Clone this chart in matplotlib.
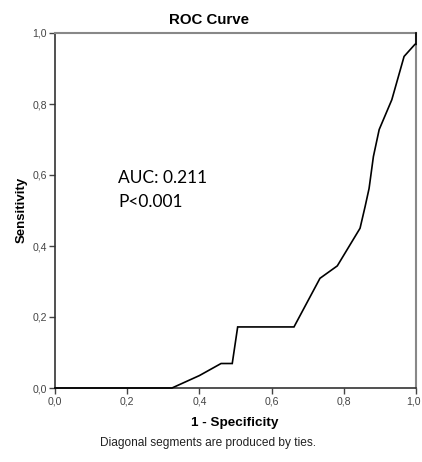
import matplotlib
matplotlib.use("Agg")
import matplotlib.pyplot as plt
import matplotlib.transforms as mtransforms
from matplotlib.ticker import FuncFormatter

fpr = [0.0, 0.324, 0.40, 0.46, 0.491, 0.506, 0.662, 0.734, 0.782, 0.845, 0.859,
       0.870, 0.882, 0.898, 0.933, 0.967, 0.997, 1.0, 1.0]
tpr = [0.0, 0.0, 0.035, 0.069, 0.069, 0.172, 0.172, 0.309, 0.344, 0.450, 0.511,
       0.562, 0.652, 0.728, 0.812, 0.934, 0.968, 0.968, 1.0]
ticks = [0.0, 0.2, 0.4, 0.6, 0.8, 1.0]

plt.rcParams['font.family'] = ['Liberation Sans', 'DejaVu Sans']

W, H = 422, 462
fig = plt.figure(figsize=(W / 100, H / 100), dpi=100)
ax = fig.add_axes([55 / W, 1 - 388 / H, (416 - 55) / W, (388 - 33) / H])

ax.plot(fpr, tpr, color='black', lw=1.2, solid_joinstyle='miter', clip_on=False, zorder=3)
ax.set_xlim(0, 1)
ax.set_ylim(0, 1)
ax.set_xticks(ticks)
ax.set_yticks(ticks)
fmt = FuncFormatter(lambda v, p: f"{v:.1f}".replace('.', ','))
ax.xaxis.set_major_formatter(fmt)
ax.yaxis.set_major_formatter(fmt)
ax.tick_params(direction='out', length=4, width=1, color='#444444',
               labelsize=7.6, labelcolor='#444444', pad=2)
for s in ['left', 'bottom']:
    ax.spines[s].set_color('#333333')
    ax.spines[s].set_linewidth(1.2)
for s in ['top', 'right']:
    ax.spines[s].set_color('#888888')
    ax.spines[s].set_linewidth(1.5)

# keep the last x tick label inside the canvas
fig.canvas.draw()
last = ax.get_xticklabels()[-1]
last.set_transform(last.get_transform() +
                   mtransforms.ScaledTranslation(-3 / 100, 0, fig.dpi_scale_trans))

fig.text(209 / W, 1 - 20 / H, 'ROC Curve', ha='center', va='center',
         fontsize=10.8, fontweight='bold')
fig.text(235 / W, 1 - 423 / H, '1 - Specificity', ha='center', va='center',
         fontsize=9.7, fontweight='bold')
fig.text(22 / W, 1 - 210 / H, 'Sensitivity', ha='center', va='center',
         fontsize=9.5, fontweight='bold', rotation=90)
fig.text(208 / W, 1 - 443 / H, 'Diagonal segments are produced by ties.',
         ha='center', va='center', fontsize=8.6, color='#222222')

ax.text(118 / W, 1 - 178 / H, 'AUC: 0.211', transform=fig.transFigure,
        ha='left', va='center', fontsize=12.5, family=['Lato', 'DejaVu Sans'])
ax.text(118 / W, 1 - 202 / H, 'P<0.001', transform=fig.transFigure,
        ha='left', va='center', fontsize=12.5, family=['Lato', 'DejaVu Sans'])

fig.savefig('out.png', dpi=100)
